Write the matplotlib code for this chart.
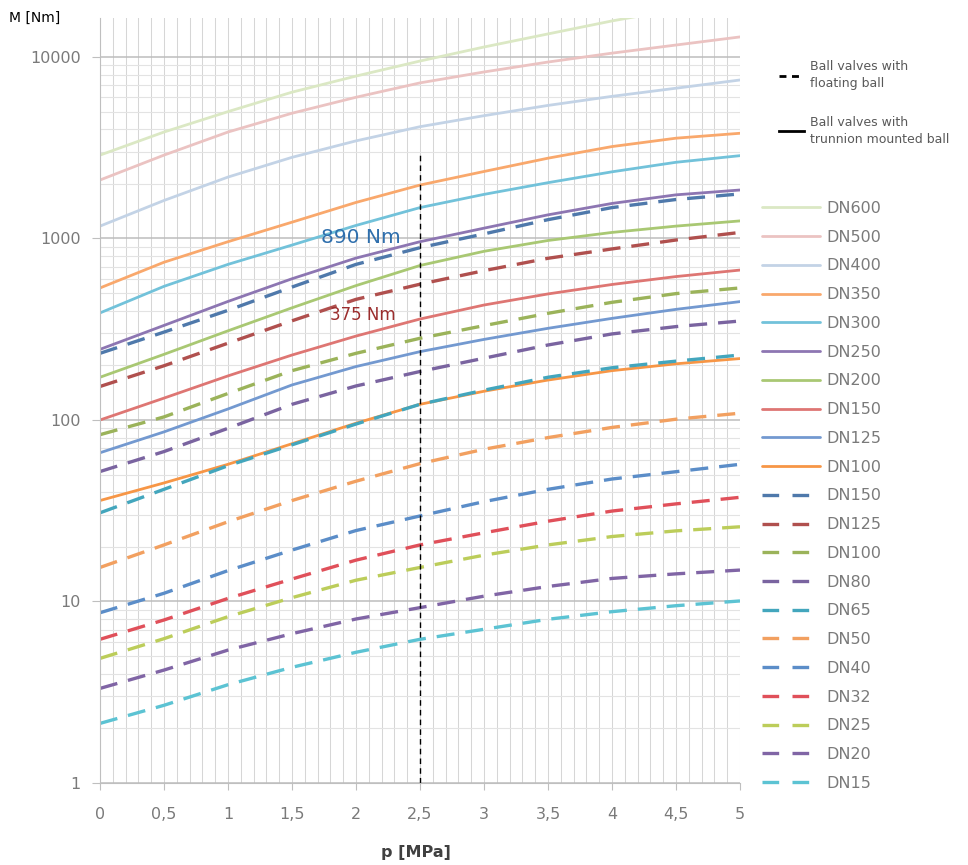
import matplotlib
matplotlib.use('Agg')
import matplotlib.pyplot as plt
from matplotlib.ticker import MultipleLocator, LogLocator, NullFormatter, FixedLocator, FixedFormatter
from matplotlib.lines import Line2D

# ---------------- data ----------------
pressure = [0, 0.5, 1, 1.5, 2, 2.5, 3, 3.5, 4, 4.5, 5]

# trunnion mounted ball (solid)
t_dn600 = [2880, 3860, 5000, 6400, 7850, 9500, 11350, 13400, 15800, 18300, 21000]
t_dn500 = [2100, 2880, 3860, 4900, 6000, 7200, 8270, 9380, 10500, 11640, 12900]
t_dn400 = [1170, 1620, 2180, 2800, 3450, 4130, 4750, 5410, 6070, 6730, 7470]
t_dn350 = [534, 740, 960, 1230, 1580, 1970, 2340, 2770, 3210, 3570, 3800]
t_dn300 = [389, 545, 720, 920, 1180, 1480, 1750, 2030, 2330, 2630, 2860]
t_dn250 = [245, 332, 450, 600, 780, 960, 1140, 1350, 1560, 1740, 1850]
t_dn200 = [172, 230, 310, 415, 550, 710, 850, 975, 1080, 1170, 1250]
t_dn150 = [100, 132, 175, 228, 290, 360, 430, 495, 558, 617, 670]
t_dn125 = [66, 86, 115, 156, 197, 238, 278, 320, 363, 407, 449]
t_dn100 = [36, 45, 57, 74, 96, 122, 144, 166, 187, 204, 218]

# floating ball (dashed)
f_dn150 = [233, 305, 402, 540, 720, 890, 1060, 1270, 1480, 1640, 1760]
f_dn125 = [153, 199, 265, 352, 462, 560, 665, 778, 876, 981, 1080]
f_dn100 = [83, 104, 140, 187, 233, 282, 331, 387, 445, 497, 534]
f_dn80 = [52, 67, 90, 122, 154, 185, 219, 259, 298, 327, 351]
f_dn65 = [30.8, 41.5, 56, 73, 95, 122, 146, 172, 194, 211, 228]
f_dn50 = [15.4, 20.5, 27.5, 36, 46, 57.5, 69, 80, 91, 101, 109]
f_dn40 = [8.67, 11.1, 14.8, 19.2, 24.6, 29.6, 35.5, 41.5, 47.3, 51.9, 57.0]
f_dn32 = [6.19, 7.91, 10.4, 13.3, 16.9, 20.5, 23.9, 27.7, 31.5, 34.5, 37.5]
f_dn25 = [4.86, 6.24, 8.25, 10.5, 13.1, 15.4, 18.0, 20.5, 22.8, 24.5, 25.8]
f_dn20 = [3.32, 4.19, 5.40, 6.65, 8.01, 9.25, 10.7, 12.1, 13.4, 14.2, 14.9]
f_dn15 = [2.13, 2.68, 3.48, 4.34, 5.25, 6.19, 7.03, 7.98, 8.79, 9.48, 10.07]

trunnion_labels = ['DN600', 'DN500', 'DN400', 'DN350', 'DN300', 'DN250',
                   'DN200', 'DN150', 'DN125', 'DN100']
floating_labels = ['DN150', 'DN125', 'DN100', 'DN80', 'DN65', 'DN50',
                   'DN40', 'DN32', 'DN25', 'DN20', 'DN15']

x_tick_values = [0, 0.5, 1, 1.5, 2, 2.5, 3, 3.5, 4, 4.5, 5]
x_tick_labels = ['0', '0,5', '1', '1,5', '2', '2,5', '3', '3,5', '4', '4,5', '5']
y_tick_values = [1, 10, 100, 1000, 10000]
y_tick_labels = ['1', '10', '100', '1000', '10000']

marker_p = 2.5
marker_top = 2900
note_floating = '890 Nm'
note_trunnion = '375 Nm'

# ---------------- styles ----------------
trunnion_series = [t_dn600, t_dn500, t_dn400, t_dn350, t_dn300, t_dn250,
                   t_dn200, t_dn150, t_dn125, t_dn100]
floating_series = [f_dn150, f_dn125, f_dn100, f_dn80, f_dn65, f_dn50,
                   f_dn40, f_dn32, f_dn25, f_dn20, f_dn15]
trunnion_colors = ['#dbe8c4', '#ebc3c2', '#c3d3e6', '#f9a86c', '#72c2da',
                   '#8d76b2', '#a9c873', '#de7673', '#7399d0', '#f79646']
floating_colors = ['#4f79ab', '#b0504e', '#9bb35a', '#7a64a0', '#43a6bd',
                   '#f2a060', '#5b8dc8', '#e0505a', '#bccd5a', '#8065a5', '#5cc3d3']

fig = plt.figure(figsize=(9.68, 8.65), dpi=100)
ax = fig.add_axes([100/968, 1-783/865, 640/968, (783-18)/865])
ax.set_yscale('log')
ax.set_xlim(0, 5)
ax.set_ylim(1, 16400)

handles = []
for vals, col in zip(trunnion_series, trunnion_colors):
    ln, = ax.plot(pressure, vals, color=col, lw=2.0, solid_capstyle='round',
                  solid_joinstyle='round')
    handles.append(ln)
for vals, col in zip(floating_series, floating_colors):
    ax.plot(pressure, vals, color=col, lw=2.4, dashes=(5.4, 3.3))
    handles.append(Line2D([], [], color=col, lw=2.4, dashes=(5.0, 4.0)))

ax.vlines(marker_p, 1, marker_top, colors='black', linestyles=(0, (4, 3)), lw=1.0)

ax.text(1.73, 1010, note_floating, color='#2f6fad', fontsize=14.5, va='center')
ax.text(1.80, 378, note_trunnion, color='#9b2d2d', fontsize=12, va='center')

# grid
ax.xaxis.set_major_locator(FixedLocator(x_tick_values))
ax.xaxis.set_major_formatter(FixedFormatter(x_tick_labels))
ax.xaxis.set_minor_locator(MultipleLocator(0.1))
ax.yaxis.set_major_locator(FixedLocator(y_tick_values))
ax.yaxis.set_major_formatter(FixedFormatter(y_tick_labels))
ax.yaxis.set_minor_locator(LogLocator(base=10, subs=range(2, 10)))
ax.yaxis.set_minor_formatter(NullFormatter())
ax.grid(which='both', axis='x', color='#d6d6d6', lw=0.75)
ax.grid(which='major', axis='y', color='#bdbdbd', lw=1.1)
ax.grid(which='minor', axis='y', color='#e3e3e3', lw=0.8)
ax.set_axisbelow(True)

for s in ['top', 'right']:
    ax.spines[s].set_visible(False)
for s in ['left', 'bottom']:
    ax.spines[s].set_color('#bfbfbf')
ax.tick_params(which='minor', length=0)
ax.tick_params(axis='x', which='major', length=5, color='#bfbfbf', pad=12,
               labelsize=11.5, labelcolor='#7a7a7a')
ax.tick_params(axis='y', which='major', length=6, color='#bfbfbf', pad=8,
               labelsize=11.5, labelcolor='#7a7a7a')

fig.text(9/968, 1-18/865, 'M [Nm]', fontsize=10, color='black', va='center')
fig.text(416/968, 1-853/865, 'p [MPa]', fontsize=11.5, fontweight='bold',
         color='#404040', ha='center', va='center')

leg = ax.legend(handles, trunnion_labels + floating_labels, loc='upper left',
                bbox_to_anchor=(762/968, 1-201/865), bbox_transform=fig.transFigure,
                frameon=False, fontsize=11.5, labelspacing=0.86, handlelength=3.6,
                handletextpad=0.4, borderpad=0, borderaxespad=0)
for t in leg.get_texts():
    t.set_color('#7a7a7a')
ax.add_artist(leg)

style_handles = [Line2D([], [], color='black', lw=2, dashes=(2.5, 2)),
                 Line2D([], [], color='black', lw=2)]
leg2 = ax.legend(style_handles, ['Ball valves with\nfloating ball',
                                 'Ball valves with\ntrunnion mounted ball'],
                 loc='upper left', bbox_to_anchor=(779/968, 1-60/865),
                 bbox_transform=fig.transFigure, frameon=False, fontsize=9,
                 labelspacing=2.0, handlelength=2.0, handletextpad=0.45,
                 borderpad=0, borderaxespad=0)
for t in leg2.get_texts():
    t.set_color('#595959')
    t.set_linespacing(1.45)

fig.savefig('out.png', dpi=100)
